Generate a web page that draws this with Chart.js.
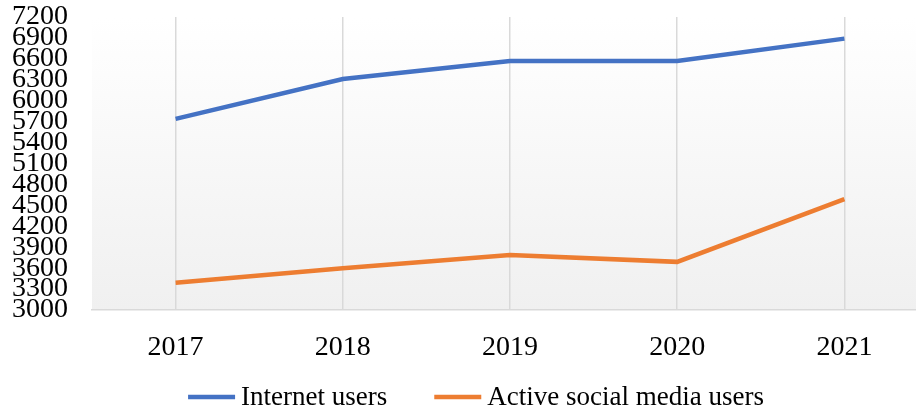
<!DOCTYPE html>
<html>
<head>
<meta charset="utf-8">
<script src="https://cdn.jsdelivr.net/npm/chart.js@4"></script>
<style>
  html, body { margin: 0; padding: 0; background: #fff; overflow: hidden; }
  #wrap { width: 940px; height: 412px; }
</style>
</head>
<body>
<div id="wrap"><canvas id="usersChart"></canvas></div>
<script>
  // Yearly users (millions)
  const years = ["2017", "2018", "2019", "2020", "2021"];
  const internetUsers = [5740, 6310, 6570, 6570, 6890];
  const socialMediaUsers = [3390, 3600, 3790, 3690, 4590];
  const yTicks = [3000, 3300, 3600, 3900, 4200, 4500, 4800, 5100, 5400, 5700, 6000, 6300, 6600, 6900, 7200];

  const blue = "#4472C4";
  const orange = "#ED7D31";
  const serif = "'Liberation Serif', 'Times New Roman', serif";
  const tickSize = 28;
  const legendSize = 27;

  // soft white-to-gray fill behind the plot area
  const plotBackground = {
    id: "plotBackground",
    beforeDraw(chart) {
      const { ctx, chartArea: a } = chart;
      const g = ctx.createLinearGradient(0, a.top, 0, a.bottom);
      g.addColorStop(0, "#ffffff");
      g.addColorStop(1, "#f0f0f0");
      ctx.save();
      ctx.fillStyle = g;
      ctx.fillRect(a.left, a.top, a.right - a.left, a.bottom - a.top);
      ctx.restore();
    },
  };

  // legend row at the bottom: line sample, text, wide gap between entries
  const lineLegend = {
    id: "lineLegend",
    afterDraw(chart) {
      const ctx = chart.ctx;
      const sample = 47, textGap = 6, itemGap = 47, y = 397;
      ctx.save();
      ctx.font = legendSize + "px " + serif;
      ctx.textBaseline = "middle";
      const items = chart.data.datasets.map(ds => ({
        text: ds.label,
        color: ds.borderColor,
        w: ctx.measureText(ds.label).width,
      }));
      const total = items.reduce((s, it) => s + sample + textGap + it.w, 0) + itemGap * (items.length - 1);
      let x = (12 + chart.width) / 2 - total / 2;
      items.forEach(it => {
        ctx.strokeStyle = it.color;
        ctx.lineWidth = 4.5;
        ctx.beginPath();
        ctx.moveTo(x, y);
        ctx.lineTo(x + sample, y);
        ctx.stroke();
        x += sample + textGap;
        ctx.fillStyle = "#000";
        ctx.fillText(it.text, x, y + 1);
        x += it.w + itemGap;
      });
      ctx.restore();
    },
  };

  new Chart(document.getElementById("usersChart"), {
    type: "line",
    data: {
      labels: years,
      datasets: [
        {
          label: "Internet users",
          data: internetUsers,
          borderColor: blue,
          backgroundColor: blue,
          borderWidth: 4.5,
          pointRadius: 0,
          tension: 0,
        },
        {
          label: "Active social media users",
          data: socialMediaUsers,
          borderColor: orange,
          backgroundColor: orange,
          borderWidth: 4.5,
          pointRadius: 0,
          tension: 0,
        },
      ],
    },
    options: {
      responsive: true,
      maintainAspectRatio: false,
      animation: false,
      layout: { padding: { top: 17, left: 12, right: 12, bottom: 40 } },
      plugins: {
        legend: { display: false },
        tooltip: { enabled: false },
      },
      scales: {
        x: {
          offset: true,
          afterFit(scale) { scale.height = 62; },
          grid: {
            offset: false,
            color: "#d9d9d9",
            lineWidth: 1.5,
            drawTicks: false,
          },
          border: { color: "#d9d9d9", width: 1.5 },
          ticks: {
            padding: 21,
            color: "#000",
            font: { family: serif, size: tickSize },
          },
        },
        y: {
          min: 3000,
          max: 7200,
          afterBuildTicks(scale) { scale.ticks = yTicks.map(v => ({ value: v })); },
          afterFit(scale) {
            scale.width = 80;
            scale.paddingTop = 0;
            scale.paddingBottom = 0;
          },
          grid: { display: false, drawTicks: false },
          border: { display: false },
          ticks: {
            autoSkip: false,
            padding: 24,
            color: "#000",
            font: { family: serif, size: tickSize, lineHeight: 1 },
            callback: v => String(v),
          },
        },
      },
    },
    plugins: [plotBackground, lineLegend],
  });
</script>
</body>
</html>
